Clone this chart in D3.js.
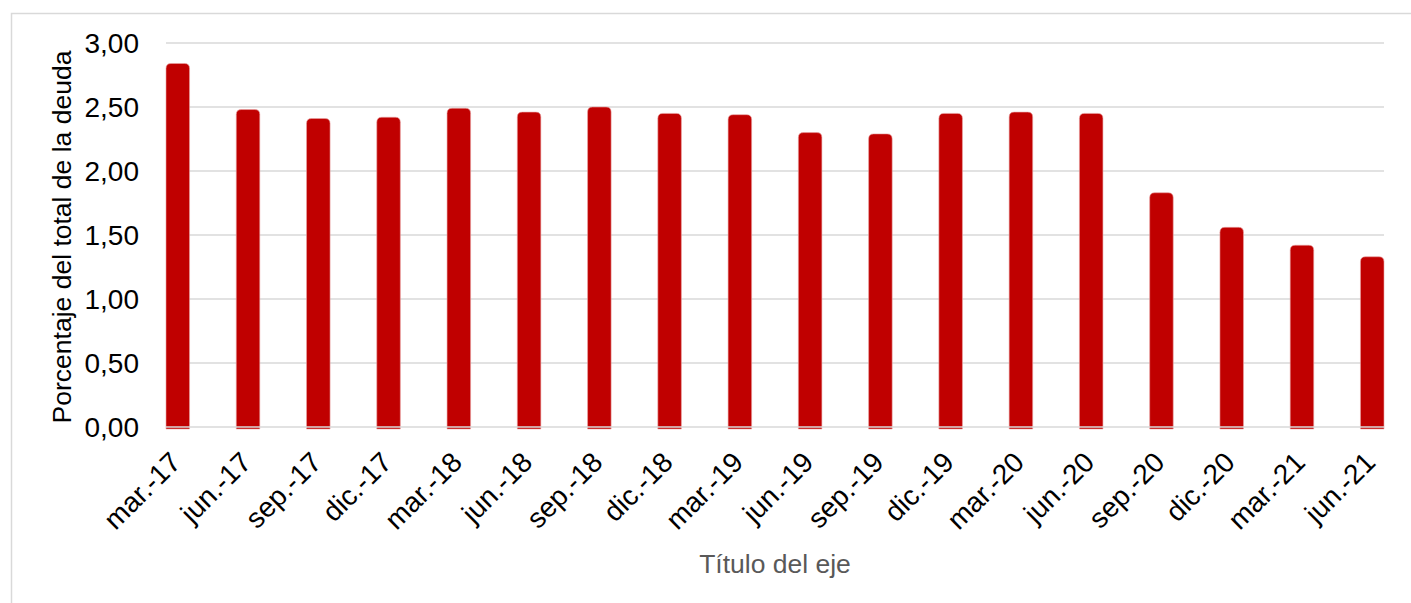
<!DOCTYPE html>
<html>
<head>
<meta charset="utf-8">
<script src="https://cdn.jsdelivr.net/npm/d3@7"></script>
<style>
    html, body { margin: 0; padding: 0; background: #ffffff; }
    svg { display: block; font-family: Arial, "Liberation Sans", sans-serif; }
</style>
</head>
<body>
<div id="chart"></div>
<script>
// Chart data
var categories = ['mar.-17', 'jun.-17', 'sep.-17', 'dic.-17', 'mar.-18', 'jun.-18', 'sep.-18', 'dic.-18',
    'mar.-19', 'jun.-19', 'sep.-19', 'dic.-19', 'mar.-20', 'jun.-20', 'sep.-20', 'dic.-20', 'mar.-21', 'jun.-21'];
var values = [2.84, 2.48, 2.41, 2.42, 2.49, 2.46, 2.50, 2.45,
    2.44, 2.30, 2.29, 2.45, 2.46, 2.45, 1.83, 1.56, 1.42, 1.33];
var yTicks = [0, 0.5, 1, 1.5, 2, 2.5, 3];
var yTitle = 'Porcentaje del total de la deuda';
var xTitle = 'Título del eje';

var width = 1411;
var height = 603;
var margin = {top: 43, right: 27, bottom: 176, left: 166};

var svg = d3.select('#chart')
    .append('svg')
    .attr('width', width)
    .attr('height', height);

// Outer chart border (runs past the right and bottom edges)
svg.append('rect')
    .attr('x', 11.5)
    .attr('y', 13.5)
    .attr('width', width + 20)
    .attr('height', height + 20)
    .attr('fill', 'none')
    .attr('stroke', '#d9d9d9')
    .attr('stroke-width', 1.5);

var xScale = d3.scaleBand()
    .domain(categories)
    .range([margin.left, width - margin.right])
    .paddingInner(0.665)
    .paddingOuter(0);

var yScale = d3.scaleLinear()
    .domain([0, 3])
    .range([height - margin.bottom, margin.top]);

var fmt = function(d) { return d3.format('.2f')(d).replace('.', ','); };

// Gridlines
svg.append('g')
    .selectAll('line')
    .data(yTicks.filter(function(d) { return d > 0; }))
    .enter().append('line')
    .attr('x1', margin.left)
    .attr('x2', width - margin.right)
    .attr('y1', function(d) { return yScale(d); })
    .attr('y2', function(d) { return yScale(d); })
    .attr('stroke', '#d9d9d9')
    .attr('stroke-width', 1.5);

// Bars with rounded tops
var r = 5;
function barPath(d, i) {
    var x0 = xScale(categories[i]);
    var w = xScale.bandwidth();
    var top = yScale(d);
    var bottom = yScale(0) + 2;
    return 'M' + x0 + ',' + bottom +
        'V' + (top + r) +
        'Q' + x0 + ',' + top + ' ' + (x0 + r) + ',' + top +
        'H' + (x0 + w - r) +
        'Q' + (x0 + w) + ',' + top + ' ' + (x0 + w) + ',' + (top + r) +
        'V' + bottom + 'Z';
}

svg.append('g')
    .selectAll('path')
    .data(values)
    .enter().append('path')
    .attr('d', barPath)
    .attr('fill', '#c00000')
    .attr('stroke', '#e9a3a3')
    .attr('stroke-width', 0.6);

// Baseline drawn over the bars
svg.append('line')
    .attr('x1', margin.left)
    .attr('x2', width - margin.right)
    .attr('y1', yScale(0))
    .attr('y2', yScale(0))
    .attr('stroke', '#d9d9d9')
    .attr('stroke-width', 1.5);

// Y axis tick labels
svg.append('g')
    .selectAll('text')
    .data(yTicks)
    .enter().append('text')
    .attr('x', 139)
    .attr('y', function(d) { return yScale(d); })
    .attr('dy', '0.36em')
    .attr('text-anchor', 'end')
    .attr('font-size', '28px')
    .attr('fill', '#000000')
    .text(fmt);

// X axis labels, rotated
svg.append('g')
    .selectAll('text')
    .data(categories)
    .enter().append('text')
    .attr('transform', function(d) {
        var cx = xScale(d) + xScale.bandwidth() / 2 - 9;
        return 'translate(' + cx + ',' + 450 + ') rotate(-45)';
    })
    .attr('text-anchor', 'end')
    .attr('dy', '0.7em')
    .attr('font-size', '28px')
    .attr('fill', '#000000')
    .text(function(d) { return d; });

// Axis titles
svg.append('text')
    .attr('transform', 'translate(71,' + 237 + ') rotate(-90)')
    .attr('text-anchor', 'middle')
    .attr('font-size', '26.5px')
    .attr('fill', '#000000')
    .text(yTitle);

svg.append('text')
    .attr('x', (margin.left + width - margin.right) / 2)
    .attr('y', 573)
    .attr('text-anchor', 'middle')
    .attr('font-size', '26.5px')
    .attr('fill', '#595959')
    .text(xTitle);
</script>
</body>
</html>
